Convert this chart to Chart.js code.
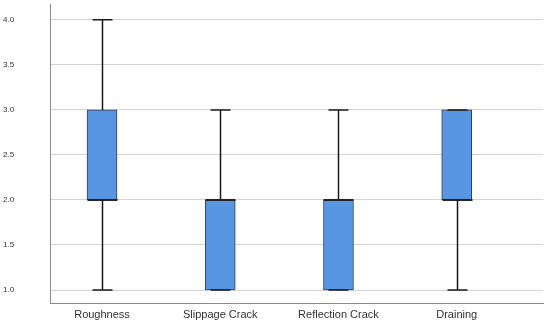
<!DOCTYPE html>
<html>
<head>
<meta charset="utf-8">
<script src="https://cdn.jsdelivr.net/npm/chart.js@4"></script>
<style>
  html, body { margin: 0; padding: 0; background: #fff; overflow: hidden; }
  canvas { display: block; }
</style>
</head>
<body>
<canvas id="boxChart" width="550" height="325"></canvas>
<script>
const categories = ['Roughness', 'Slippage Crack', 'Reflection Crack', 'Draining'];
const mins = [1, 1, 1, 1];
const q1s = [2, 1, 1, 2];
const medians = [2, 2, 2, 2];
const q3s = [3, 2, 2, 3];
const maxs = [4, 3, 3, 3];
const yTicks = [1.0, 1.5, 2.0, 2.5, 3.0, 3.5, 4.0];

// whiskers + median drawn on top of the floating bars
const whiskerPlugin = {
    id: 'whiskers',
    afterDatasetsDraw(chart) {
        var ctx = chart.ctx;
        var xs = chart.scales.x;
        var ys = chart.scales.y;
        ctx.save();
        for (var i = 0; i < categories.length; i++) {
            var cx = Math.round(xs.getPixelForValue(i + 1)) + 0.5;
            var half = 15;
            ctx.strokeStyle = '#1a1a1a';
            ctx.lineWidth = 1.5;
            ctx.beginPath();
            ctx.moveTo(cx, ys.getPixelForValue(q3s[i]));
            ctx.lineTo(cx, ys.getPixelForValue(maxs[i]));
            ctx.moveTo(cx, ys.getPixelForValue(q1s[i]));
            ctx.lineTo(cx, ys.getPixelForValue(mins[i]));
            ctx.moveTo(cx - 10, ys.getPixelForValue(maxs[i]));
            ctx.lineTo(cx + 10, ys.getPixelForValue(maxs[i]));
            ctx.moveTo(cx - 10, ys.getPixelForValue(mins[i]));
            ctx.lineTo(cx + 10, ys.getPixelForValue(mins[i]));
            ctx.stroke();

            ctx.lineWidth = 2;
            ctx.strokeStyle = '#222';
            var my = ys.getPixelForValue(medians[i]);
            ctx.beginPath();
            ctx.moveTo(cx - half, my);
            ctx.lineTo(cx + half, my);
            ctx.stroke();
        }
        ctx.restore();
    }
};

var ctx = document.getElementById('boxChart').getContext('2d');
window.boxChart = new Chart(ctx, {
    type: 'bar',
    data: {
        datasets: [{
            data: categories.map((c, i) => ({ x: i + 1, y: [q1s[i], q3s[i]] })),
            backgroundColor: '#5896e3',
            borderColor: '#3a3f4a',
            borderWidth: 1,
            borderSkipped: false,
            barThickness: 30
        }]
    },
    options: {
        responsive: false,
        animation: false,
        layout: { padding: { top: 0, right: 7, left: 3, bottom: 0 } },
        plugins: {
            legend: { display: false },
            tooltip: { enabled: false }
        },
        scales: {
            x: {
                type: 'linear',
                offset: false,
                min: 0.56,
                max: 4.73,
                afterBuildTicks: function(scale) {
                    scale.ticks = categories.map((c, i) => ({ value: i + 1 }));
                },
                afterFit: function(scale) { scale.height = 22; },
                ticks: {
                    callback: function(v) { return categories[v - 1]; },
                    color: '#333',
                    font: { family: 'Liberation Sans', size: 11 },
                    padding: 5,
                    maxRotation: 0
                },
                grid: { display: false, drawTicks: false },
                border: { display: true, color: '#8c8c8c', width: 1 }
            },
            y: {
                min: 0.856,
                max: 4.167,
                afterBuildTicks: function(scale) {
                    scale.ticks = yTicks.map(v => ({ value: v }));
                },
                afterFit: function(scale) { scale.width = 47; },
                ticks: {
                    callback: function(v) { return v.toFixed(1); },
                    color: '#333',
                    font: { family: 'Liberation Sans', size: 8 },
                    padding: 0,
                    crossAlign: 'far'
                },
                grid: { color: '#d4d4d4', lineWidth: 1, drawTicks: false },
                border: { display: true, color: '#8c8c8c', width: 1 }
            }
        }
    },
    plugins: [whiskerPlugin]
});
</script>
</body>
</html>
